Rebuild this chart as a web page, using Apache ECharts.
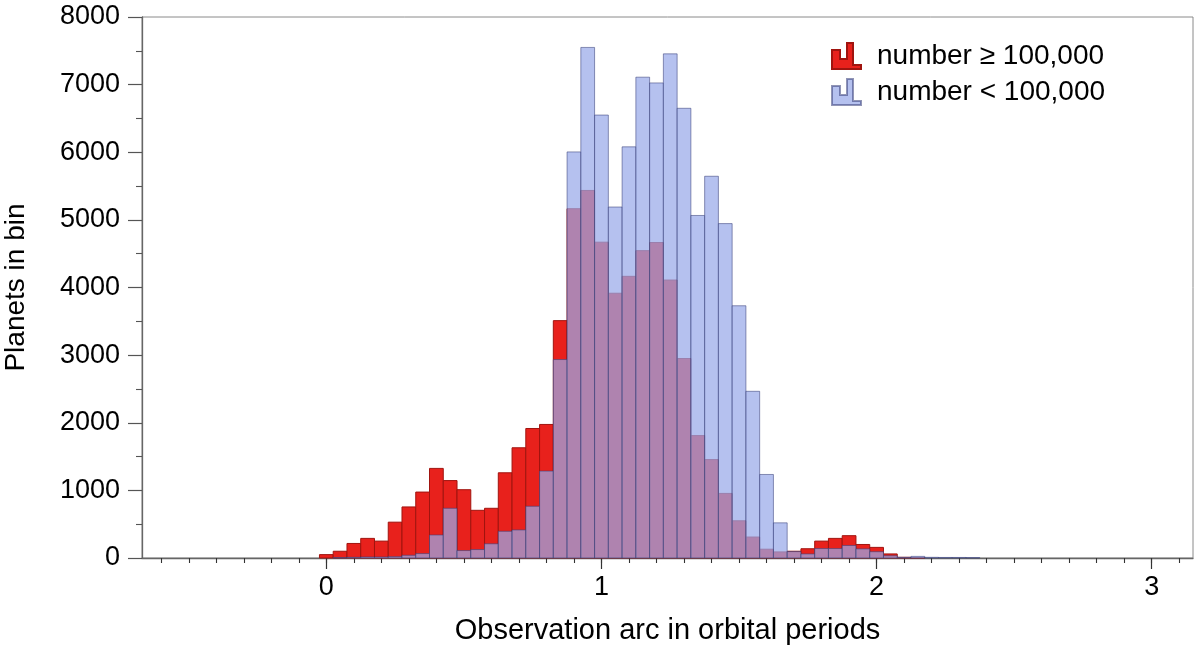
<!DOCTYPE html>
<html>
<head>
<meta charset="utf-8">
<script src="https://cdn.jsdelivr.net/npm/echarts@6/dist/echarts.min.js"></script>
<style>
html,body{margin:0;padding:0;background:#fff;}
#chart{width:1200px;height:652px;}
</style>
</head>
<body>
<div id="chart"></div>
<script>
// Bin centres (orbital periods), bin width 0.05
const binCenters = [0.00,0.05,0.10,0.15,0.20,0.25,0.30,0.35,0.40,0.45,
  0.50,0.55,0.60,0.65,0.70,0.75,0.80,0.85,0.90,0.95,
  1.00,1.05,1.10,1.15,1.20,1.25,1.30,1.35,1.40,1.45,
  1.50,1.55,1.60,1.65,1.70,1.75,1.80,1.85,1.90,1.95,
  2.00,2.05,2.10,2.15,2.20,2.25,2.30,2.35];
const BIN_WIDTH = 0.05;

// number >= 100,000
const countLarge = [50,100,215,290,250,530,755,975,1325,1145,
  1010,705,735,1260,1630,1915,1975,3510,5165,5435,
  4670,3915,4165,4545,4665,4110,2950,1810,1455,955,
  550,310,130,90,100,137,250,290,330,200,
  157,60,10,5,0,0,0,0];

// number < 100,000
const countSmall = [0,5,10,15,15,20,40,65,340,735,
  110,125,210,395,415,765,1285,2935,6005,7550,
  6550,5190,6080,7110,7025,7455,6650,5065,5645,4945,
  3730,2465,1235,520,95,60,140,140,185,135,
  93,34,10,24,10,8,8,6];

const seriesNames = ['number \u2265 100,000', 'number < 100,000'];
const xMajorTicks = [0, 1, 2, 3];
const xMinorTicks = [-0.6,-0.5,-0.4,-0.3,-0.2,-0.1,0,0.1,0.2,0.3,0.4,0.5,0.6,0.7,0.8,0.9,1,
  1.1,1.2,1.3,1.4,1.5,1.6,1.7,1.8,1.9,2,2.1,2.2,2.3,2.4,2.5,2.6,2.7,2.8,2.9,3,3.1];

const X_MIN = -0.67, X_MAX = 3.15;
const FONT = '"Liberation Sans", Arial, Helvetica, sans-serif';

const RED = 'rgb(232,33,28)';
const RED_EDGE = 'rgb(160,20,15)';
const BLUE = 'rgba(152,169,233,0.72)';
const BLUE_EDGE = 'rgba(55,62,120,0.55)';

const ICON = 'path://M0,26 V7 H8 V16 H15 V0 H21 V22 H29 V26 Z';

function pairs(vals) {
  return binCenters.map((c, i) => [c, vals[i]]);
}

function makeRender(fill, stroke) {
  return function (params, api) {
    const c = api.value(0), v = api.value(1);
    if (!v) return;
    const p0 = api.coord([c - BIN_WIDTH / 2, v]);
    const p1 = api.coord([c + BIN_WIDTH / 2, 0]);
    return {
      type: 'rect',
      shape: { x: p0[0], y: p0[1], width: p1[0] - p0[0], height: p1[1] - p0[1] },
      style: { fill: fill, stroke: stroke, lineWidth: 1 }
    };
  };
}

const chart = echarts.init(document.getElementById('chart'), null, { renderer: 'canvas' });

const option = {
  animation: false,
  backgroundColor: '#fff',
  textStyle: { fontFamily: FONT },
  grid: {
    left: 142, right: 7, top: 17, bottom: 94,
    containLabel: false, outerBoundsMode: 'none',
    show: true, borderColor: '#8a8a8a', borderWidth: 1, backgroundColor: 'transparent'
  },
  legend: {
    orient: 'vertical',
    left: 831, top: 42,
    padding: 0,
    itemWidth: 29, itemHeight: 26, itemGap: 8,
    textStyle: { fontSize: 28, color: '#000', fontFamily: FONT, padding: [0, 0, 0, 11] },
    data: [
      { name: seriesNames[0], icon: ICON },
      { name: seriesNames[1], icon: ICON }
    ]
  },
  xAxis: [
    {
      type: 'value', min: X_MIN, max: X_MAX, position: 'bottom',
      name: 'Observation arc in orbital periods',
      nameLocation: 'middle', nameGap: 58,
      nameTextStyle: { fontSize: 29, color: '#000', fontFamily: FONT },
      axisLine: { show: true, onZero: false, lineStyle: { color: '#666', width: 1.3 } },
      axisTick: { show: true, customValues: xMajorTicks, length: 11, lineStyle: { color: '#333', width: 1.2 } },
      axisLabel: { show: true, customValues: xMajorTicks, fontSize: 27, color: '#000', margin: 16, fontFamily: FONT,
        formatter: v => String(v) },
      splitLine: { show: false }
    },
    {
      type: 'value', min: X_MIN, max: X_MAX, position: 'bottom',
      axisLine: { show: false, onZero: false },
      axisTick: { show: true, customValues: xMinorTicks, length: 5, lineStyle: { color: '#333', width: 1.1 } },
      axisLabel: { show: false },
      splitLine: { show: false }
    }
  ],
  yAxis: {
    type: 'value', min: 0, max: 8000, interval: 1000,
    name: 'Planets in bin',
    nameLocation: 'middle', nameGap: 112,
    nameTextStyle: { fontSize: 28, color: '#000', fontFamily: FONT },
    axisLine: { show: true, onZero: false, lineStyle: { color: '#666', width: 1.3 } },
    axisTick: { show: true, inside: false, length: 14, lineStyle: { color: '#555', width: 1.2 } },
    minorTick: { show: true, splitNumber: 2, length: 6, lineStyle: { color: '#555', width: 1.1 } },
    axisLabel: { fontSize: 27, color: '#000', margin: 22, fontFamily: FONT, formatter: v => String(v) },
    splitLine: { show: false }
  },
  series: [
    {
      name: seriesNames[0], type: 'custom', xAxisIndex: 0,
      itemStyle: { color: RED, borderColor: RED_EDGE, borderWidth: 1 },
      renderItem: makeRender(RED, RED_EDGE),
      data: pairs(countLarge), z: 2
    },
    {
      name: seriesNames[1], type: 'custom', xAxisIndex: 0,
      itemStyle: { color: BLUE, borderColor: BLUE_EDGE, borderWidth: 1 },
      renderItem: makeRender(BLUE, BLUE_EDGE),
      data: pairs(countSmall), z: 3
    }
  ]
};

chart.setOption(option);
</script>
</body>
</html>
